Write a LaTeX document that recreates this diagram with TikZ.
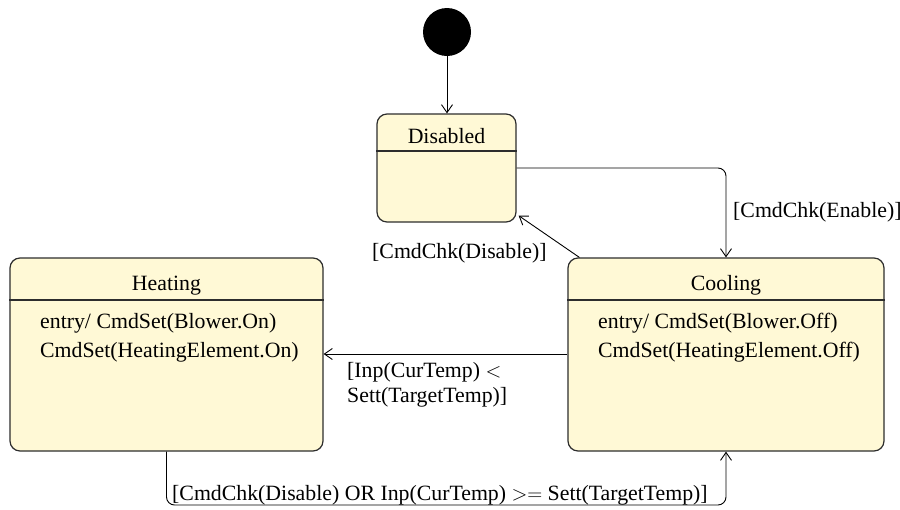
\documentclass[tikz,border=0pt]{standalone}
\usepackage{fontspec}
\setmainfont{Liberation Serif}
\usetikzlibrary{arrows.meta}
\definecolor{statefill}{RGB}{255,249,214}
\definecolor{stateline}{RGB}{45,45,45}
\begin{document}
\begin{tikzpicture}[x=1pt,y=-1pt,
  every node/.style={font=\fontsize{21.8}{23.5}\selectfont},
  statebox/.style={draw=stateline, fill=statefill, line width=1.2pt,
    rounded corners=10pt, inner sep=0pt},
  sepline/.style={draw=stateline, line width=1.2pt},
  trans/.style={draw=black, line width=0.9pt,
    -{Straight Barb[length=8pt,width=11pt]}},
  lbl/.style={inner sep=0pt, anchor=base west},
  ttl/.style={inner sep=0pt, anchor=base},
  body/.style={inner sep=0pt, anchor=north west, align=left}]
\useasboundingbox (0,0) rectangle (900,509);

% initial pseudo-state
\node[circle, fill=black, minimum size=48pt, inner sep=0pt] (init) at (447,32) {};

% states
\node[statebox, minimum width=139pt, minimum height=108pt] (dis) at (446.5,168) {};
\node[statebox, minimum width=313pt, minimum height=193pt] (heat) at (166.5,354.5) {};
\node[statebox, minimum width=316pt, minimum height=193pt] (cool) at (726,354.5) {};

% compartment separators
\draw[sepline] (dis.west |- 0,151) -- (dis.east |- 0,151);
\draw[sepline] (heat.west |- 0,300) -- (heat.east |- 0,300);
\draw[sepline] (cool.west |- 0,300) -- (cool.east |- 0,300);

% state names
\node[ttl] (disname) at (446.5,143) {Disabled};
\node[ttl] (heatname) at (166.5,290) {Heating};
\node[ttl] (coolname) at (726,290) {Cooling};

% entry actions
\node[body, font=\fontsize{21.8}{29}\selectfont] (heatbody) at (40,307.7) {\strut entry/ CmdSet(Blower.On)\\\strut CmdSet(HeatingElement.On)};
\node[body, font=\fontsize{21.8}{29}\selectfont] (coolbody) at (598,307.7) {\strut entry/ CmdSet(Blower.Off)\\\strut CmdSet(HeatingElement.Off)};

% transitions
\draw[trans] (init.south) -- (init.south |- dis.north);
\draw[trans, rounded corners=8pt] (dis.east) -| (cool.north);
\draw[trans] ([xshift=12pt]cool.north west) -- ([xshift=2pt,yshift=7pt]dis.south east);
\draw[trans] (cool.west |- 0,354) -- (heat.east |- 0,354);
\draw[trans, rounded corners=8pt] (heat.south) -- (heat.south |- 0,505) -| (cool.south);

% guards
\node[lbl] (gEnable) at (733,217) {[CmdChk(Enable)]};
\node[lbl] (gDisable) at (372,258) {[CmdChk(Disable)]};
\node[body, font=\fontsize{21.8}{25}\selectfont] (gCold) at (347,359.5) {\strut [Inp(CurTemp) $<$\\\strut Sett(TargetTemp)]};
\node[lbl] (gWarm) at (172,500) {[CmdChk(Disable) OR Inp(CurTemp) $>=$ Sett(TargetTemp)]};
\end{tikzpicture}
\end{document}
